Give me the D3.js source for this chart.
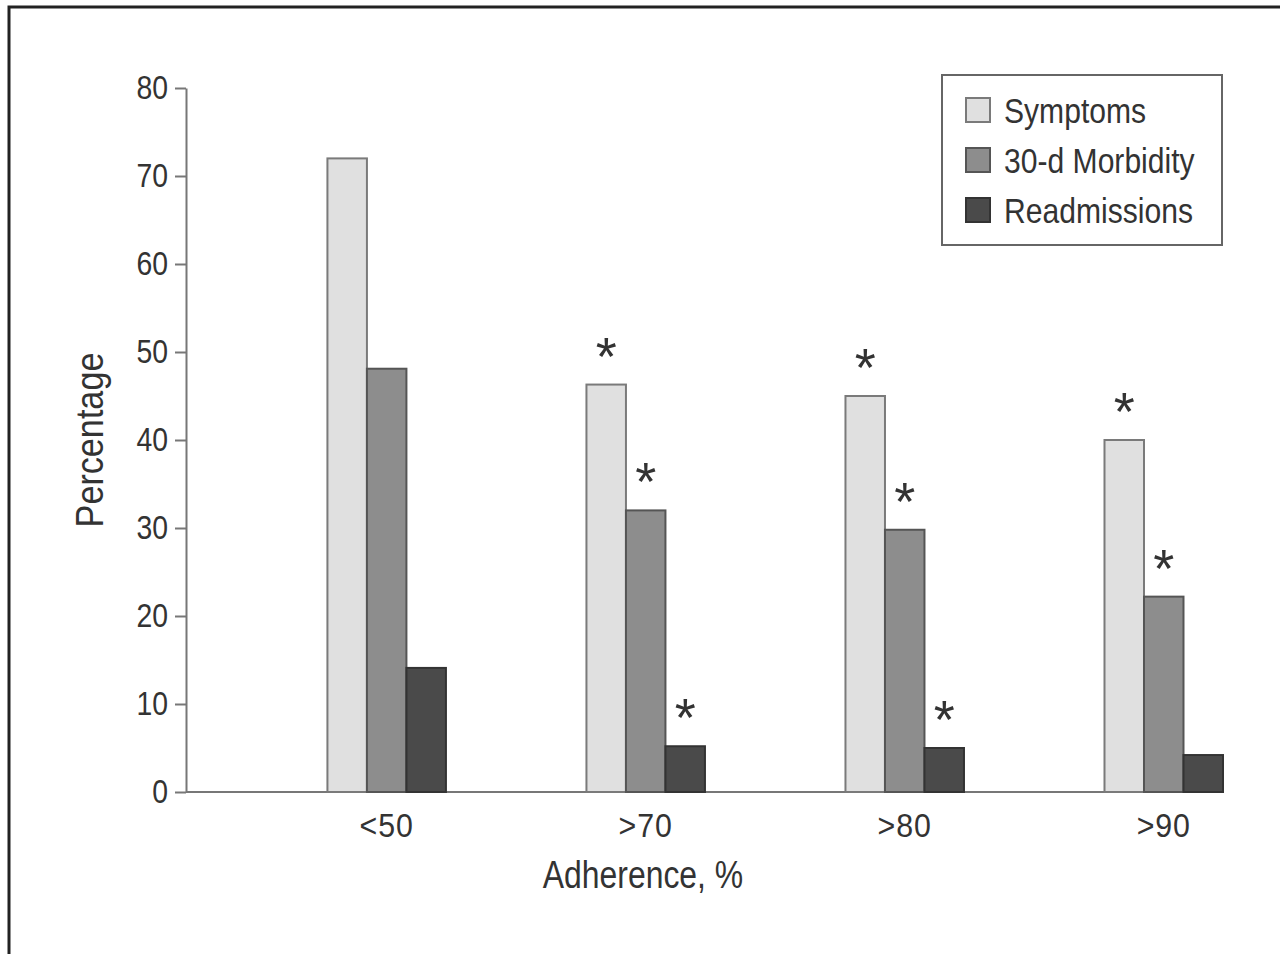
<!DOCTYPE html>
<html>
<head>
<meta charset="utf-8">
<script src="https://cdn.jsdelivr.net/npm/d3@7/dist/d3.min.js"></script>
<style>
  html, body { margin: 0; padding: 0; background: #fff; }
  svg { display: block; }
  text { font-family: "Liberation Sans", Arial, sans-serif; fill: #333; }
</style>
</head>
<body>
<svg id="chart" width="1280" height="954"></svg>
<script>
// ---- data ----
const categories = ["<50", ">70", ">80", ">90"];
const seriesNames = ["Symptoms", "30-d Morbidity", "Readmissions"];
const symptoms = [72, 46.3, 45.0, 40.0];
const morbidity = [48.1, 32.0, 29.8, 22.2];
const readmissions = [14.1, 5.2, 5.0, 4.2];
const symptomsSig = [false, true, true, true];
const morbiditySig = [false, true, true, true];
const readmissionsSig = [false, true, true, false];
const yTicks = [0, 10, 20, 30, 40, 50, 60, 70, 80];
const xTitle = "Adherence, %";
const yTitle = "Percentage";

const seriesValues = [symptoms, morbidity, readmissions];
const seriesSig = [symptomsSig, morbiditySig, readmissionsSig];
const fills = ["#e0e0e0", "#8d8d8d", "#4a4a4a"];
const strokes = ["#7a7a7a", "#555", "#333"];
const FONT = '"Liberation Sans", Arial, sans-serif';

const svg = d3.select("#chart");

// condense text horizontally (reference uses a condensed sans)
function condense(sel, sx) {
  sel.each(function () {
    const t = d3.select(this);
    const x = +t.attr("x") || 0, yy = +t.attr("y") || 0;
    t.attr("x", 0).attr("y", 0).attr("transform", `translate(${x},${yy}) scale(${sx},1)`);
  });
}

// frame
svg.append("path")
  .attr("d", "M9,960 L9,7 L1290,7")
  .attr("fill", "none").attr("stroke", "#222").attr("stroke-width", 3);

const y = d3.scaleLinear().domain([0, 80]).range([792, 88]);
const x0 = d3.scaleBand().domain(categories).range([186, 1223])
  .paddingInner(0.5425).paddingOuter(0.273).align(1);
const x1 = d3.scaleBand().domain(seriesNames).range([0, x0.bandwidth()]);

// y axis
const yAxis = d3.axisLeft(y).tickValues(yTicks).tickSize(11).tickPadding(7).tickSizeOuter(0);
const gy = svg.append("g").attr("transform", "translate(186,0)").call(yAxis);
gy.select(".domain").attr("stroke", "#777").attr("stroke-width", 2);
gy.selectAll(".tick line").attr("stroke", "#777").attr("stroke-width", 2);
gy.selectAll(".tick text").attr("font-size", 33).attr("fill", "#333").style("font-family", FONT)
  .call(condense, 0.86);

// x axis
const xAxis = d3.axisBottom(x0).tickSize(0).tickPadding(22).tickSizeOuter(0);
const gx = svg.append("g").attr("transform", "translate(0,792)").call(xAxis);
gx.select(".domain").attr("stroke", "#777").attr("stroke-width", 2)
  .attr("d", "M186,0H1223");
gx.selectAll(".tick text").attr("font-size", 33).attr("fill", "#333")
  .attr("dy", "0.71em").attr("letter-spacing", 1).style("font-family", FONT)
  .call(condense, 0.92);

// bars
const groups = svg.append("g").selectAll("g").data(categories).join("g")
  .attr("transform", d => `translate(${x0(d)},0)`);

seriesNames.forEach((name, si) => {
  groups.append("rect")
    .attr("x", x1(name))
    .attr("width", x1.bandwidth())
    .attr("y", (d, i) => y(seriesValues[si][i]))
    .attr("height", (d, i) => y(0) - y(seriesValues[si][i]))
    .attr("fill", fills[si]).attr("stroke", strokes[si]).attr("stroke-width", 2);
  groups.filter((d, i) => seriesSig[si][i]).append("text")
    .attr("x", x1(name) + x1.bandwidth() / 2)
    .attr("y", d => y(seriesValues[si][categories.indexOf(d)]) - 10)
    .attr("text-anchor", "middle")
    .attr("font-size", 54)
    .text("*");
});

// axis titles
svg.append("text").attr("x", 643).attr("y", 888).attr("text-anchor", "middle")
  .attr("font-size", 38).text(xTitle).call(condense, 0.84);
svg.append("text").attr("transform", "translate(103,440) rotate(-90) scale(0.9,1)")
  .attr("text-anchor", "middle").attr("font-size", 38).text(yTitle);

// legend
const lg = svg.append("g");
lg.append("rect").attr("x", 942).attr("y", 75).attr("width", 280).attr("height", 170)
  .attr("fill", "#fff").attr("stroke", "#666").attr("stroke-width", 2);
seriesNames.forEach((name, i) => {
  lg.append("rect").attr("x", 966).attr("y", 98 + i * 50).attr("width", 24).attr("height", 24)
    .attr("fill", fills[i]).attr("stroke", strokes[i]).attr("stroke-width", 2);
  lg.append("text").attr("x", 1004).attr("y", 123 + i * 50).attr("font-size", 35).text(name)
    .call(condense, 0.86);
});
</script>
</body>
</html>
